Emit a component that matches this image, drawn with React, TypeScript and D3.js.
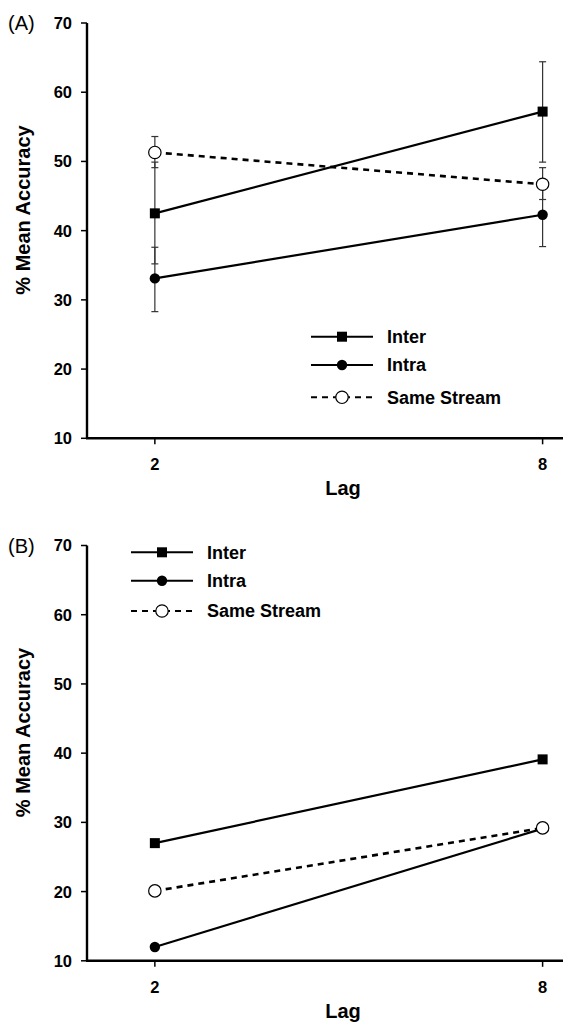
import React from "react";
import * as d3 from "d3";

const lags = [2, 8];
const yTicks = [10, 20, 30, 40, 50, 60, 70];
const seriesNames = ["Inter", "Intra", "Same Stream"];

// Panel A
const interA = [42.5, 57.2];
const interALow = [35.2, 49.9];
const interAHigh = [49.9, 64.4];
const intraA = [33.1, 42.3];
const intraALow = [28.3, 37.7];
const intraAHigh = [37.6, 46.8];
const sameA = [51.3, 46.7];
const sameALow = [49.1, 44.5];
const sameAHigh = [53.6, 49.1];

// Panel B
const interB = [27.0, 39.1];
const intraB = [12.0, 29.1];
const sameB = [20.1, 29.2];

const FONT = "'Liberation Sans', Arial, Helvetica, sans-serif";

type Series = { name: string; values: number[]; low?: number[]; high?: number[]; kind: "square" | "dot" | "open" };

function Marker({ kind, x, y }: { kind: string; x: number; y: number }) {
  if (kind === "square") return <rect x={x - 5} y={y - 5} width={10} height={10} fill="#000" />;
  if (kind === "dot") return <circle cx={x} cy={y} r={5.2} fill="#000" />;
  return <circle cx={x} cy={y} r={6.2} fill="#fff" stroke="#000" strokeWidth={1.2} />;
}

function Panel({ top, label, series, legend }: { top: number; label: string; series: Series[]; legend: { x: number; y: number; rows: number[] } }) {
  const y = d3.scaleLinear().domain([10, 70]).range([top + 415.3, top]);
  const x = d3.scaleLinear().domain([0.95, 8.3]).range([87, 562]);
  const line = d3.line<number>().x((_, i) => x(lags[i])).y((v) => y(v));
  const axisY = y(10);
  return (
    <g fontFamily={FONT}>
      <text x={8} y={top} dy="0.35em" fontSize={20} fill="#000">{label}</text>
      {/* error bars */}
      {series.map((s) =>
        s.low
          ? lags.map((lag, i) => (
              <g key={s.name + i} stroke="#333" strokeWidth={1.2}>
                <line x1={x(lag)} x2={x(lag)} y1={y(s.low![i])} y2={y(s.high![i])} />
                <line x1={x(lag) - 3.5} x2={x(lag) + 3.5} y1={y(s.low![i])} y2={y(s.low![i])} />
                <line x1={x(lag) - 3.5} x2={x(lag) + 3.5} y1={y(s.high![i])} y2={y(s.high![i])} />
              </g>
            ))
          : null
      )}
      {/* lines */}
      {series.map((s) => (
        <path key={s.name} d={line(s.values) || ""} fill="none" stroke="#000" strokeWidth={s.kind === "open" ? 2.6 : 2.2}
          strokeDasharray={s.kind === "open" ? "6,5" : undefined} />
      ))}
      {series.map((s) => lags.map((lag, i) => <Marker key={s.name + "m" + i} kind={s.kind} x={x(lag)} y={y(s.values[i])} />))}
      {/* axes */}
      <line x1={87} x2={87} y1={y(70)} y2={axisY} stroke="#000" strokeWidth={2.4} />
      <line x1={86} x2={563} y1={axisY} y2={axisY} stroke="#000" strokeWidth={2.4} />
      {yTicks.map((t) => (
        <g key={t}>
          <line x1={81} x2={87} y1={y(t)} y2={y(t)} stroke="#000" strokeWidth={1.5} />
          <text x={72} y={y(t)} dy="0.36em" textAnchor="end" fontSize={16.5} fontWeight="bold">{t}</text>
        </g>
      ))}
      {lags.map((l) => (
        <g key={l}>
          <line x1={x(l)} x2={x(l)} y1={axisY} y2={axisY + 6} stroke="#000" strokeWidth={1.5} />
          <text x={x(l)} y={axisY + 32} textAnchor="middle" fontSize={16.5} fontWeight="bold">{l}</text>
        </g>
      ))}
      <text x={343} y={axisY + 57} textAnchor="middle" fontSize={20} fontWeight="bold">Lag</text>
      <text transform={`translate(30,${top + 187}) rotate(-90)`} textAnchor="middle" fontSize={20} fontWeight="bold">% Mean Accuracy</text>
      {/* legend */}
      {series.map((s, i) => {
        const ly = legend.rows[i];
        return (
          <g key={"lg" + s.name}>
            <line x1={legend.x} x2={legend.x + 62} y1={ly} y2={ly} stroke="#000" strokeWidth={s.kind === "open" ? 2 : 2}
              strokeDasharray={s.kind === "open" ? "6,5" : undefined} />
            <Marker kind={s.kind} x={legend.x + 31} y={ly} />
            <text x={legend.x + 76} y={ly} dy="0.36em" fontSize={18} fontWeight="bold">{s.name}</text>
          </g>
        );
      })}
    </g>
  );
}

export default function App() {
  const seriesA: Series[] = [
    { name: seriesNames[0], values: interA, low: interALow, high: interAHigh, kind: "square" },
    { name: seriesNames[1], values: intraA, low: intraALow, high: intraAHigh, kind: "dot" },
    { name: seriesNames[2], values: sameA, low: sameALow, high: sameAHigh, kind: "open" },
  ];
  const seriesB: Series[] = [
    { name: seriesNames[0], values: interB, kind: "square" },
    { name: seriesNames[1], values: intraB, kind: "dot" },
    { name: seriesNames[2], values: sameB, kind: "open" },
  ];
  return (
    <svg width={564} height={1027} style={{ position: "absolute", left: 0, top: 0, background: "#fff" }}>
      <rect width={564} height={1027} fill="#fff" />
      <Panel top={23} label="(A)" series={seriesA} legend={{ x: 311, y: 0, rows: [336.7, 365, 397.3] }} />
      <Panel top={545.5} label="(B)" series={seriesB} legend={{ x: 131, y: 0, rows: [552.3, 580.7, 611] }} />
    </svg>
  );
}
